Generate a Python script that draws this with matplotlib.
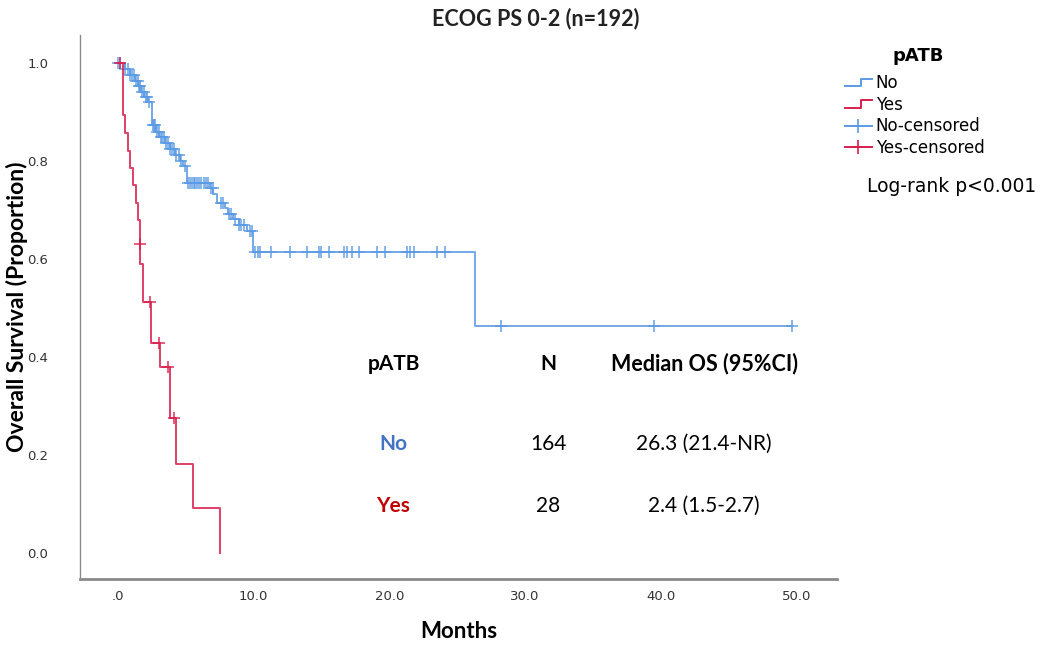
import matplotlib
matplotlib.use("Agg")
import matplotlib.pyplot as plt
import numpy as np
from matplotlib.legend_handler import HandlerBase
from matplotlib.lines import Line2D

# Kaplan-Meier steps (months, survival proportion)
no_time = [0.0, 0.5, 0.9, 1.25, 1.5, 1.7, 1.95, 2.2, 2.48, 2.52, 2.8, 3.05, 3.45,
           3.8, 4.2, 4.55, 4.8, 5.06, 6.75, 7.02, 7.28, 7.9, 8.1, 8.5, 8.9, 9.5,
           9.94, 26.3]
no_surv = [1.0, 0.988, 0.976, 0.964, 0.952, 0.940, 0.930, 0.920, 0.890, 0.873,
           0.860, 0.848, 0.836, 0.824, 0.812, 0.800, 0.789, 0.755, 0.744, 0.733,
           0.714, 0.703, 0.692, 0.681, 0.669, 0.657, 0.615, 0.463]
no_end = 49.7
no_cens = [0.0, 0.15, 0.5, 0.7, 0.9, 1.05, 1.2, 1.35, 1.45, 1.55, 1.65, 1.8, 1.9,
           2.05, 2.15, 2.3, 2.55, 2.65, 2.75, 2.9, 3.0, 3.15, 3.25, 3.4, 3.55,
           3.7, 3.85, 4.0, 4.1, 4.3, 4.5, 4.65, 4.9, 5.15, 5.3, 5.45, 5.6, 5.7,
           5.85, 6.0, 6.15, 6.3, 6.45, 6.6, 6.85, 7.0, 7.6, 7.75, 8.2, 8.35, 8.6,
           8.95, 9.1, 9.3, 9.7, 9.85, 10.11, 10.28, 10.48, 11.29, 12.69, 13.92,
           14.78, 14.96, 15.52, 16.68, 16.88, 17.25, 17.73, 19.09, 19.7, 21.3,
           21.55, 21.84, 23.52, 24.13, 28.2, 39.5, 49.7]

yes_time = [0.0, 0.4, 0.55, 0.72, 0.88, 1.08, 1.33, 1.5, 1.6, 1.64, 1.87, 2.4,
            2.43, 3.1, 3.8, 3.83, 4.28, 5.5, 7.53]
yes_surv = [1.0, 0.893, 0.857, 0.821, 0.786, 0.750, 0.714, 0.679, 0.631, 0.590,
            0.513, 0.469, 0.428, 0.380, 0.326, 0.275, 0.182, 0.091, 0.0]
yes_cens = [0.15, 1.62, 2.36, 3.0, 3.7, 4.13]

# summary table
tab_groups = ["No", "Yes"]
tab_n = ["164", "28"]
tab_median = ["26.3 (21.4-NR)", "2.4 (1.5-2.7)"]

BLUE = "#5b9ae4"
RED = "#d81f4c"


def surv_at(times, surv, t):
    idx = np.searchsorted(times, t, side="right") - 1
    return np.asarray(surv)[idx]


class StepHandler(HandlerBase):
    def create_artists(self, legend, orig_handle, xdescent, ydescent,
                       width, height, fontsize, trans):
        x0 = -xdescent
        y0 = -ydescent
        xs = [x0, x0 + 0.6 * width, x0 + 0.6 * width, x0 + width]
        ys = [y0 + 0.15 * height, y0 + 0.15 * height, y0 + 0.8 * height, y0 + 0.8 * height]
        ln = Line2D(xs, ys, color=orig_handle.get_color(),
                    lw=orig_handle.get_linewidth(), transform=trans)
        return [ln]


fig = plt.figure(figsize=(10.49, 6.47), dpi=100)
ax = fig.add_axes([0.0763, 0.105, 0.7217, 0.841])

for times, surv, end, cens, col in [
        (no_time, no_surv, no_end, no_cens, BLUE),
        (yes_time, yes_surv, yes_time[-1], yes_cens, RED)]:
    xs = list(times) + [end]
    ys = list(surv) + [surv[-1]]
    ax.step(xs, ys, where="post", color=col, lw=1.4, alpha=0.85)
    ax.plot(cens, surv_at(times, surv, cens), ls="none", marker="+",
            ms=9, mew=1.2, color=col, alpha=0.85)

ax.set_xlim(-2.8, 53.0)
ax.set_ylim(-0.053, 1.057)
ax.set_xticks([0, 10, 20, 30, 40, 50])
ax.set_xticklabels([".0", "10.0", "20.0", "30.0", "40.0", "50.0"])
ax.set_yticks([0, 0.2, 0.4, 0.6, 0.8, 1.0])
ax.set_yticklabels(["0.0", "0.2", "0.4", "0.6", "0.8", "1.0"])
ax.tick_params(axis="both", length=0, labelsize=9.5, labelcolor="#333333")
ax.tick_params(axis="x", pad=8)
ax.tick_params(axis="y", pad=23)
for s in ["top", "right"]:
    ax.spines[s].set_visible(False)
ax.spines["left"].set_color("#8a8a8a")
ax.spines["left"].set_linewidth(1.0)
ax.spines["bottom"].set_color("#8a8a8a")
ax.spines["bottom"].set_linewidth(2.0)

ax.set_xlabel("Months", fontsize=16, fontweight="bold", family="Lato", va="center")
ax.xaxis.set_label_coords(0.5, -0.097)
ax.set_ylabel("Overall Survival (Proportion)", fontsize=16.5, fontweight="bold",
              family="Lato", va="center")
ax.yaxis.set_label_coords(-0.0835, 0.5)

fig.text(0.511, 0.972, "ECOG PS 0-2 (n=192)", ha="center", va="center",
         fontsize=15.5, fontweight="bold", family="Lato", color="#222222")

# table inside the plot
hdr_y = 0.386
ax.text(20.3, hdr_y, "pATB", ha="center", va="center", fontsize=15,
        fontweight="bold", family="Lato")
ax.text(31.7, hdr_y, "N", ha="center", va="center", fontsize=15,
        fontweight="bold", family="Lato")
ax.text(43.2, hdr_y, "Median OS (95%CI)", ha="center", va="center", fontsize=15.5,
        fontweight="bold", family="Lato")
row_y = [0.222, 0.096]
row_col = ["#4472c4", "#c00000"]
for g, n, m, yy, c in zip(tab_groups, tab_n, tab_median, row_y, row_col):
    ax.text(20.3, yy, g, ha="center", va="center", fontsize=15,
            fontweight="bold", family="Lato", color=c)
    ax.text(31.7, yy, n, ha="center", va="center", fontsize=15, family="Lato")
    ax.text(43.2, yy, m, ha="center", va="center", fontsize=15, family="Lato")

# legend
fig.text(0.875, 1 - 56 / 647, "pATB", ha="center", va="center",
         fontsize=13, fontweight="bold")
h_no = Line2D([], [], color=BLUE, lw=1.4)
h_yes = Line2D([], [], color=RED, lw=1.4)
h_nc = Line2D([], [], color=BLUE, lw=1.4, marker="+", ms=10, mew=1.2)
h_yc = Line2D([], [], color=RED, lw=1.4, marker="+", ms=10, mew=1.2)
leg = fig.legend([h_no, h_yes, h_nc, h_yc], ["No", "Yes", "No-censored", "Yes-censored"],
                 handler_map={h_no: StepHandler(), h_yes: StepHandler()},
                 loc="upper left", bbox_to_anchor=(0.8055, 1 - 74 / 647), frameon=False,
                 fontsize=12, handlelength=1.6, handletextpad=0.25, labelspacing=0.22,
                 numpoints=1, borderpad=0, borderaxespad=0)

fig.text(0.9075, 1 - 186 / 647, "Log-rank p<0.001", ha="center", va="center", fontsize=13.5)

fig.savefig("out.png", dpi=100)
